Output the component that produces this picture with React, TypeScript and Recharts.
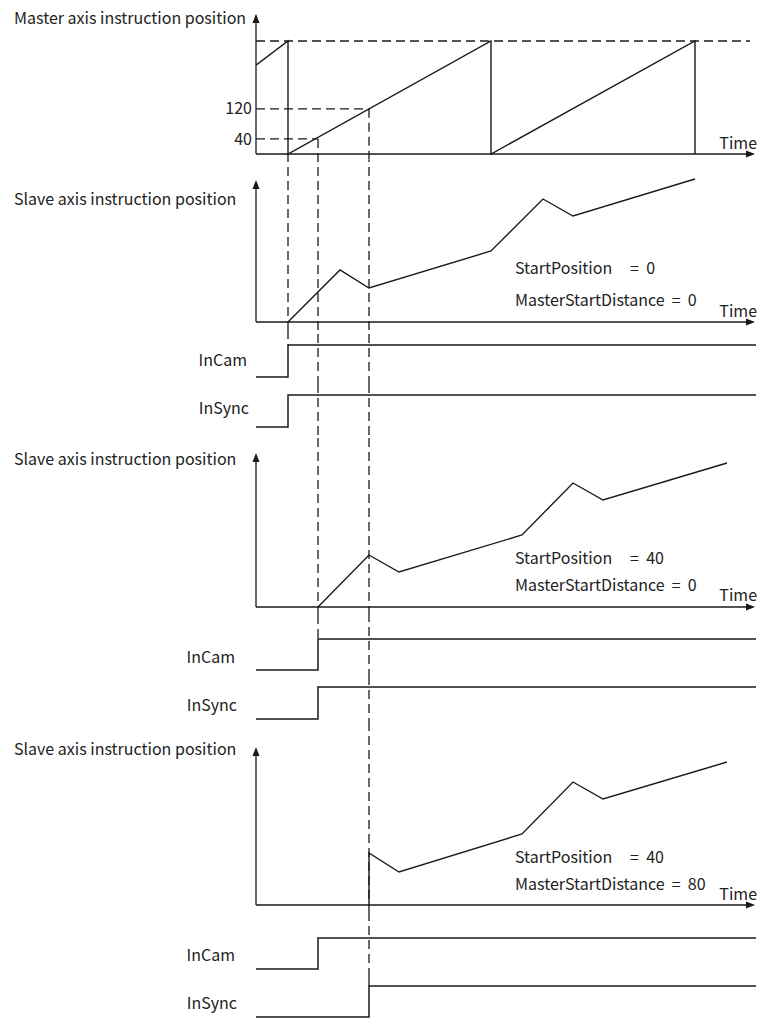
import React from "react";
import { ComposedChart, Line, XAxis, YAxis, ReferenceLine, ReferenceDot } from "recharts";

const TIME_MAX = 500;

// master axis: sawtooth, read against the 40 / 120 marks
const masterTime = [0, 32, 32, 235, 235, 439, 439];
const masterPos = [236, 300, 0, 300, 0, 300, 0];
const masterTicks = [40, 120];
const masterPeak = 300;
const masterAxisTop = 372;

// slave axis, one curve per case
const slaveTime1 = [32, 84, 113, 235, 287, 317, 439];
const slavePos1 = [0, 52, 34, 71, 123, 106, 143];
const slaveTime2 = [62, 113, 143, 266, 317, 347, 471];
const slavePos2 = [0, 52, 35, 72, 124, 107, 144];
const slaveTime3 = [113, 113, 143, 266, 317, 347, 471];
const slavePos3 = [0, 52, 33, 71, 123, 106, 143];
const slaveAxisTop = [142, 154, 158];

const startPositions = [0, 40, 40];
const masterStartDistances = [0, 0, 80];

// InCam / InSync rising edges
const inCamRise = [32, 62, 62];
const inSyncRise = [32, 62, 113];

// dashed guides: time and the master value they start from
const guideTimes = [32, 62, 113];
const guideMaster = [0, 40, 120];

const INK = "#1a1a1a";
const DASH = "9 5";
const FONT = "'Noto Sans CJK SC', 'Noto Sans', sans-serif";
const FS = 16;

type Band = { id: string; top: number; height: number; base: number; ppu: number; rise?: number };

const bands: Band[] = [
  { id: "master", top: 0, height: 160, base: 154, ppu: 113 / 300 },
  { id: "slave1", top: 160, height: 170, base: 322, ppu: 1 },
  { id: "cam1", top: 330, height: 55, base: 377, ppu: 32, rise: inCamRise[0] },
  { id: "sync1", top: 385, height: 50, base: 427, ppu: 32, rise: inSyncRise[0] },
  { id: "slave2", top: 435, height: 180, base: 607, ppu: 1 },
  { id: "cam2", top: 615, height: 63, base: 670, ppu: 31, rise: inCamRise[1] },
  { id: "sync2", top: 678, height: 49, base: 719, ppu: 32, rise: inSyncRise[1] },
  { id: "slave3", top: 727, height: 186, base: 905, ppu: 1 },
  { id: "cam3", top: 913, height: 64, base: 969, ppu: 31, rise: inCamRise[2] },
  { id: "sync3", top: 977, height: 42, base: 1017, ppu: 31, rise: inSyncRise[2] },
];

const domainOf = (b: Band): [number, number] => [
  (b.base - (b.top + b.height)) / b.ppu,
  (b.base - b.top) / b.ppu,
];

const zip = (ts: number[], vs: number[]) => ts.map((t, i) => ({ t, v: vs[i] }));

const stepData = (rise: number) => [
  { t: 0, v: 0 },
  { t: rise, v: 0 },
  { t: rise, v: 1 },
  { t: TIME_MAX, v: 1 },
];

// last band each guide reaches: the first signal that rises at its time
const guideEnd = guideTimes.map((t) => bands.findIndex((b) => b.rise === t));

function arrowRight(p: any) {
  return <path d={`M${p.cx},${p.cy} l-9,-3.5 l0,7 z`} fill={INK} />;
}
function arrowUp(p: any) {
  return <path d={`M${p.cx},${p.cy} l-3.5,9 l7,0 z`} fill={INK} />;
}

function axes(yTop: number) {
  return [
    <ReferenceLine key="ax" segment={[{ x: 0, y: 0 }, { x: 497, y: 0 }]} stroke={INK} strokeWidth={1.3} />,
    <ReferenceLine key="ay" segment={[{ x: 0, y: 0 }, { x: 0, y: yTop - 4 }]} stroke={INK} strokeWidth={1.3} />,
    <ReferenceDot key="arx" x={499} y={0} r={0} shape={arrowRight} ifOverflow="visible" />,
    <ReferenceDot key="ary" x={0} y={yTop} r={0} shape={arrowUp} ifOverflow="visible" />,
  ];
}

function guidesFor(index: number) {
  const b = bands[index];
  const [lo, hi] = domainOf(b);
  const out: React.ReactNode[] = [];
  guideTimes.forEach((t, g) => {
    if (index === 0) {
      out.push(
        <ReferenceLine key={`g${g}`} segment={[{ x: t, y: guideMaster[g] }, { x: t, y: lo }]} stroke={INK} strokeDasharray={DASH} strokeWidth={1.3} />
      );
    } else if (index < guideEnd[g]) {
      out.push(<ReferenceLine key={`g${g}`} x={t} stroke={INK} strokeDasharray={DASH} strokeWidth={1.3} />);
    } else if (index === guideEnd[g]) {
      out.push(
        <ReferenceLine key={`g${g}`} segment={[{ x: t, y: hi }, { x: t, y: 1 }]} stroke={INK} strokeDasharray={DASH} strokeWidth={1.3} />
      );
    }
  });
  return out;
}

function Panel({ index, yTicks, children }: { index: number; yTicks?: number[]; children: React.ReactNode }) {
  const b = bands[index];
  const [lo, hi] = domainOf(b);
  return (
    <div style={{ position: "absolute", left: 0, top: b.top }}>
      <ComposedChart
        width={760}
        height={b.height}
        margin={{ top: 0, right: 4, bottom: 0, left: yTicks ? 216 : 256 }}
      >
        <XAxis type="number" dataKey="t" domain={[0, TIME_MAX]} hide allowDataOverflow />
        <YAxis
          type="number"
          dataKey="v"
          domain={[lo, hi]}
          allowDataOverflow
          hide={!yTicks}
          ticks={yTicks}
          width={40}
          axisLine={false}
          tickLine={false}
          tickSize={0}
          tickMargin={4}
          tick={{ fill: "#222", fontSize: FS, fontFamily: FONT }}
        />
        {guidesFor(index)}
        {children}
      </ComposedChart>
    </div>
  );
}

const txt = { fontFamily: FONT, fontSize: FS, fill: "#222" };

export default function App() {
  const slaves = [
    zip(slaveTime1, slavePos1),
    zip(slaveTime2, slavePos2),
    zip(slaveTime3, slavePos3),
  ];
  const slaveBand = [1, 4, 7];
  const titleY = [198, 458, 748];
  const timeY = [310, 594, 893];
  const paramY = [267, 557, 856];
  const camY = [359, 656, 954];
  const syncY = [407, 704, 1002];
  const labelRight = [247, 235, 235];

  return (
    <div style={{ position: "absolute", left: 0, top: 0, width: 760, height: 1019, background: "#fff" }}>
      <Panel index={0} yTicks={masterTicks}>
        <ReferenceLine segment={[{ x: 0, y: masterPeak }, { x: 494, y: masterPeak }]} stroke={INK} strokeDasharray={DASH} strokeWidth={1.3} />
        <ReferenceLine segment={[{ x: 0, y: 120 }, { x: guideTimes[2], y: 120 }]} stroke={INK} strokeDasharray={DASH} strokeWidth={1.3} />
        <ReferenceLine segment={[{ x: 0, y: 40 }, { x: guideTimes[1], y: 40 }]} stroke={INK} strokeDasharray={DASH} strokeWidth={1.3} />
        {axes(masterAxisTop)}
        <Line
          data={zip(masterTime, masterPos)}
          dataKey="v"
          type="linear"
          stroke={INK}
          strokeWidth={1.4}
          dot={false}
          isAnimationActive={false}
        />
      </Panel>

      {slaves.map((data, i) => (
        <React.Fragment key={i}>
          <Panel index={slaveBand[i]}>
            {axes(slaveAxisTop[i])}
            <Line data={data} dataKey="v" type="linear" stroke={INK} strokeWidth={1.4} dot={false} isAnimationActive={false} />
          </Panel>
          <Panel index={slaveBand[i] + 1}>
            <Line data={stepData(inCamRise[i])} dataKey="v" type="linear" stroke={INK} strokeWidth={1.5} dot={false} isAnimationActive={false} />
          </Panel>
          <Panel index={slaveBand[i] + 2}>
            <Line data={stepData(inSyncRise[i])} dataKey="v" type="linear" stroke={INK} strokeWidth={1.5} dot={false} isAnimationActive={false} />
          </Panel>
        </React.Fragment>
      ))}

      <svg width={760} height={1019} style={{ position: "absolute", left: 0, top: 0, pointerEvents: "none" }}>
        <text x={14} y={17} dominantBaseline="central" {...txt}>Master axis instruction position</text>
        <text x={757} y={142} dominantBaseline="central" textAnchor="end" {...txt}>Time</text>
        {slaves.map((_, i) => (
          <g key={i}>
            <text x={14} y={titleY[i]} dominantBaseline="central" {...txt}>Slave axis instruction position</text>
            <text x={757} y={timeY[i]} dominantBaseline="central" textAnchor="end" {...txt}>Time</text>
            <text x={515} y={paramY[i]} dominantBaseline="central" style={{ whiteSpace: "pre" }} {...txt}>
              {`StartPosition     =  ${startPositions[i]}`}
            </text>
            <text x={515} y={paramY[i] + (i === 0 ? 32 : 27)} dominantBaseline="central" style={{ whiteSpace: "pre" }} {...txt}>
              {`MasterStartDistance  =  ${masterStartDistances[i]}`}
            </text>
            <text x={labelRight[i]} y={camY[i]} dominantBaseline="central" textAnchor="end" {...txt}>InCam</text>
            <text x={labelRight[i] + 2} y={syncY[i]} dominantBaseline="central" textAnchor="end" {...txt}>InSync</text>
          </g>
        ))}
      </svg>
    </div>
  );
}
